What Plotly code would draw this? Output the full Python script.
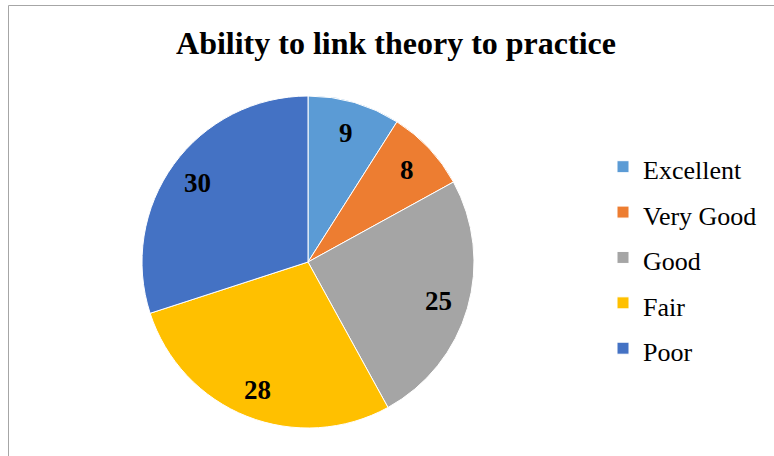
import math
import plotly.graph_objects as go

title = "Ability to link theory to practice"
labels = ["Excellent", "Very Good", "Good", "Fair", "Poor"]
values = [9, 8, 25, 28, 30]
colors = ["#5B9BD5", "#ED7D31", "#A5A5A5", "#FFC000", "#4472C4"]

W, H = 774, 456
CX, CY, R = 308, 262, 166  # pie centre / radius in pixels

legend_labels = ['<span style="font-size:26px">%s</span>' % l for l in labels]

fig = go.Figure(go.Pie(
    labels=legend_labels,
    values=values,
    sort=False,
    direction="clockwise",
    rotation=0,
    marker=dict(colors=colors, line=dict(color="white", width=1)),
    textinfo="none",
    hoverinfo="value",
    domain=dict(x=[(CX - R) / W, (CX + R) / W], y=[(H - CY - R) / H, (H - CY + R) / H]),
))

# value labels placed along each slice's bisector
total = sum(values)
annotations = []
cum = 0
for v in values:
    mid = (cum + v / 2) / total * 2 * math.pi
    cum += v
    px = CX + 0.82 * R * math.sin(mid)
    py = CY - 0.82 * R * math.cos(mid) + 1.5
    annotations.append(dict(
        x=px / W, y=1 - py / H, xref="paper", yref="paper",
        text="<b>%d</b>" % v, showarrow=False, xanchor="center", yanchor="middle",
        font=dict(family="Liberation Serif", size=27, color="black"),
    ))

fig.update_layout(
    width=W, height=H,
    margin=dict(l=0, r=0, t=0, b=0),
    paper_bgcolor="white",
    font=dict(family="Liberation Serif", color="black"),
    title=dict(text="<b>" + title + "</b>", x=396 / W, xanchor="center",
               y=(H - 43) / H, yanchor="middle", yref="container",
               font=dict(family="Liberation Serif", size=32, color="black")),
    legend=dict(x=603 / W, xanchor="left", y=(H - 139) / H, yanchor="top",
                font=dict(family="Liberation Serif", size=32.6, color="black"),
                bgcolor="rgba(0,0,0,0)"),
    annotations=annotations,
    shapes=[dict(type="rect", xref="paper", yref="paper",
                 x0=8.5 / W, x1=1.05, y0=-0.05, y1=(H - 5.5) / H,
                 line=dict(color="#A6A6A6", width=1))],
)

fig.write_html("out.html")
